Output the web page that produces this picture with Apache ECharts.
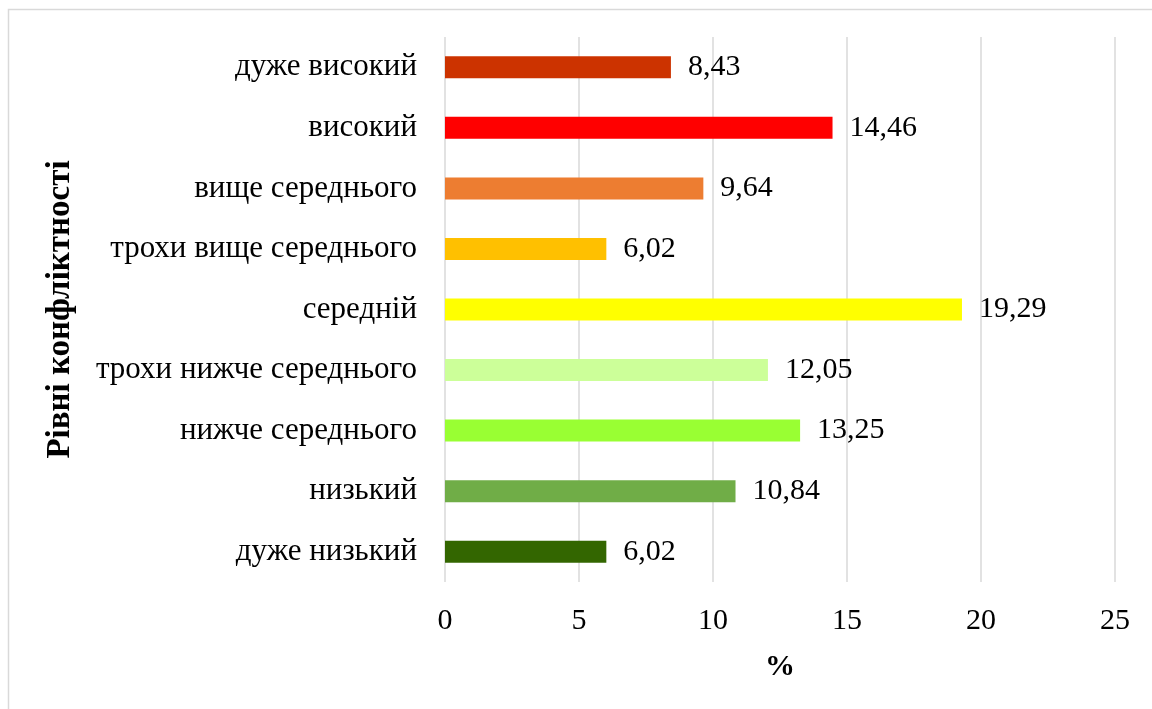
<!DOCTYPE html>
<html>
<head>
<meta charset="utf-8">
<script src="https://cdn.jsdelivr.net/npm/echarts@6/dist/echarts.min.js"></script>
<style>
html,body{margin:0;padding:0;background:#fff;}
#chart{width:1152px;height:709px;}
</style>
</head>
<body>
<div id="chart"></div>
<script>
const categories = ['дуже високий','високий','вище середнього','трохи вище середнього','середній','трохи нижче середнього','нижче середнього','низький','дуже низький'];
const values = [8.43, 14.46, 9.64, 6.02, 19.29, 12.05, 13.25, 10.84, 6.02];
const barColors = ['#CC3300','#FF0000','#ED7D31','#FFC000','#FFFF00','#CCFF99','#99FF33','#70AD47','#336600'];
const xTicks = [0, 5, 10, 15, 20, 25];

const FONT = '"Liberation Serif", "Times New Roman", serif';
const chart = echarts.init(document.getElementById('chart'));
chart.setOption({
  backgroundColor: '#fff',
  animation: false,
  graphic: [{
    type: 'rect', shape: {x: 8.5, y: 9.5, width: 1200, height: 800},
    style: {fill: 'none', stroke: '#D9D9D9', lineWidth: 1.5}, silent: true
  }],
  grid: {left: 445, right: 37, top: 37, bottom: 127, containLabel: false},
  xAxis: {
    type: 'value', min: xTicks[0], max: xTicks[xTicks.length - 1], interval: 5,
    name: '%', nameLocation: 'middle', nameGap: 70,
    nameTextStyle: {fontFamily: FONT, fontSize: 30, fontWeight: 'bold', color: '#000'},
    axisLine: {show: false}, axisTick: {show: false},
    axisLabel: {fontFamily: FONT, fontSize: 30, color: '#000', margin: 24},
    splitLine: {show: true, lineStyle: {color: '#D9D9D9', width: 1.5}}
  },
  yAxis: {
    type: 'category', data: categories, inverse: true,
    name: 'Рівні конфліктності', nameLocation: 'middle', nameGap: 368, nameRotate: 90,
    nameTextStyle: {fontFamily: FONT, fontSize: 33, fontWeight: 'bold', color: '#000'},
    axisLine: {show: false}, axisTick: {show: false},
    axisLabel: {fontFamily: FONT, fontSize: 31, color: '#000', margin: 28},
    splitLine: {show: false}
  },
  series: [{
    type: 'bar', barWidth: 22,
    data: values.map((v, i) => ({value: v, itemStyle: {color: barColors[i]}})),
    label: {
      show: true, position: 'right', distance: 17,
      fontFamily: FONT, fontSize: 30, color: '#000',
      formatter: p => p.value.toFixed(2).replace('.', ',')
    }
  }]
});
</script>
</body>
</html>
